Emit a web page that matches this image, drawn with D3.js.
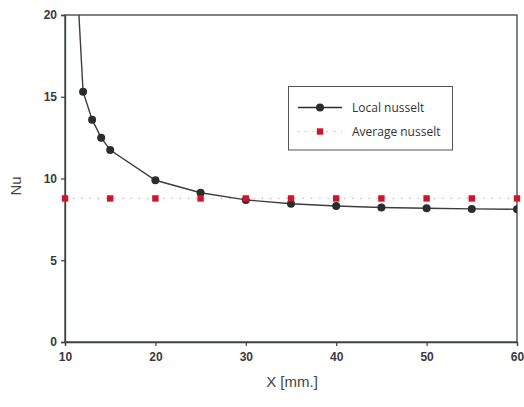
<!DOCTYPE html>
<html><head><meta charset="utf-8">
<script src="https://cdn.jsdelivr.net/npm/d3@7"></script>
<style>body{margin:0;background:#fff;} svg{display:block;}</style>
</head><body>
<svg id="c" width="524" height="407"></svg>
<script>
const localX = [11, 12, 13, 14, 15, 20, 25, 30, 35, 40, 45, 50, 55, 60];
const localNu = [25.5, 15.31, 13.6, 12.5, 11.74, 9.89, 9.13, 8.69, 8.46, 8.32, 8.23, 8.18, 8.14, 8.12];
const avgX = [10, 15, 20, 25, 30, 35, 40, 45, 50, 55, 60];
const avgNu = [8.78, 8.78, 8.78, 8.78, 8.78, 8.78, 8.78, 8.78, 8.78, 8.78, 8.78];
const xTicks = [10, 20, 30, 40, 50, 60];
const yTicks = [0, 5, 10, 15, 20];
const seriesNames = ["Local nusselt", "Average nusselt"];

const svg = d3.select("#c");
const L = 65, R = 517, T = 15, B = 342;
const x = d3.scaleLinear().domain([10, 60]).range([L, R]);
const y = d3.scaleLinear().domain([0, 20]).range([B, T]);
const axisColor = "#3a4240";
const font = "'Liberation Sans', Arial, sans-serif";

svg.append("defs").append("clipPath").attr("id", "clip")
  .append("rect").attr("x", L).attr("y", T).attr("width", R - L).attr("height", B - T);

// frame
svg.append("rect").attr("x", L).attr("y", T).attr("width", R - L).attr("height", B - T)
  .attr("fill", "none").attr("stroke", axisColor).attr("stroke-width", 1.3);

const xa = svg.append("g").attr("transform", `translate(0,${B})`)
  .call(d3.axisBottom(x).tickValues(xTicks).tickSize(4).tickPadding(6).tickFormat(d3.format("d")));
const ya = svg.append("g").attr("transform", `translate(${L},0)`)
  .call(d3.axisLeft(y).tickValues(yTicks).tickSize(4).tickPadding(4).tickFormat(d3.format("d")));
[xa, ya].forEach(g => {
  g.select(".domain").attr("stroke", axisColor).attr("stroke-width", 1.3);
  g.selectAll(".tick line").attr("stroke", axisColor).attr("stroke-width", 1.2);
  g.selectAll(".tick text").attr("fill", "#3a3a3a").attr("font-family", font)
    .attr("font-size", 12).attr("font-weight", "bold");
});

const plot = svg.append("g").attr("clip-path", "url(#clip)");

// average dotted line
plot.append("path")
  .attr("d", d3.line().x((d, i) => x(avgX[i])).y(d => y(d))(avgNu))
  .attr("fill", "none").attr("stroke", "#e8a0a8").attr("stroke-width", 1.2)
  .attr("stroke-dasharray", "1.2,7");

// local line
plot.append("path")
  .attr("d", d3.line().x((d, i) => x(localX[i])).y(d => y(d))(localNu))
  .attr("fill", "none").attr("stroke", "#3a3f3d").attr("stroke-width", 1.4);

plot.selectAll("circle.loc").data(localNu).enter().append("circle")
  .attr("class", "loc")
  .attr("cx", (d, i) => x(localX[i])).attr("cy", d => y(d)).attr("r", 4)
  .attr("fill", "#2b2d2d");

svg.selectAll("rect.avg").data(avgNu).enter().append("rect")
  .attr("class", "avg")
  .attr("x", (d, i) => x(avgX[i]) - 3.2).attr("y", d => y(d) - 3.2)
  .attr("width", 6.4).attr("height", 6.4).attr("fill", "#d0142c");

// legend
const lg = svg.append("g");
lg.append("rect").attr("x", 288.5).attr("y", 86.5).attr("width", 164).attr("height", 63.5)
  .attr("fill", "#fff").attr("stroke", "#555").attr("stroke-width", 1);
lg.append("line").attr("x1", 298).attr("x2", 342).attr("y1", 107.5).attr("y2", 107.5)
  .attr("stroke", "#2b2d2d").attr("stroke-width", 1.4);
lg.append("circle").attr("cx", 320).attr("cy", 107.5).attr("r", 4).attr("fill", "#2b2d2d");
lg.append("line").attr("x1", 298).attr("x2", 342).attr("y1", 131.5).attr("y2", 131.5)
  .attr("stroke", "#e8a0a8").attr("stroke-width", 1.2).attr("stroke-dasharray", "1.2,6");
lg.append("rect").attr("x", 316.8).attr("y", 128.3).attr("width", 6.4).attr("height", 6.4).attr("fill", "#d0142c");
lg.selectAll("text").data(seriesNames).enter().append("text")
  .attr("x", 352).attr("y", (d, i) => 112 + i * 24)
  .attr("font-family", "'Open Sans', sans-serif").attr("font-size", 12).attr("fill", "#333")
  .text(d => d);

// axis titles
svg.append("text").attr("x", 292).attr("y", 387).attr("text-anchor", "middle")
  .attr("font-family", font).attr("font-size", 15).attr("fill", "#444").text("X [mm.]");
svg.append("text").attr("transform", "translate(21,186) rotate(-90)").attr("text-anchor", "middle")
  .attr("font-family", font).attr("font-size", 15).attr("fill", "#444").text("Nu");
</script>
</body></html>
